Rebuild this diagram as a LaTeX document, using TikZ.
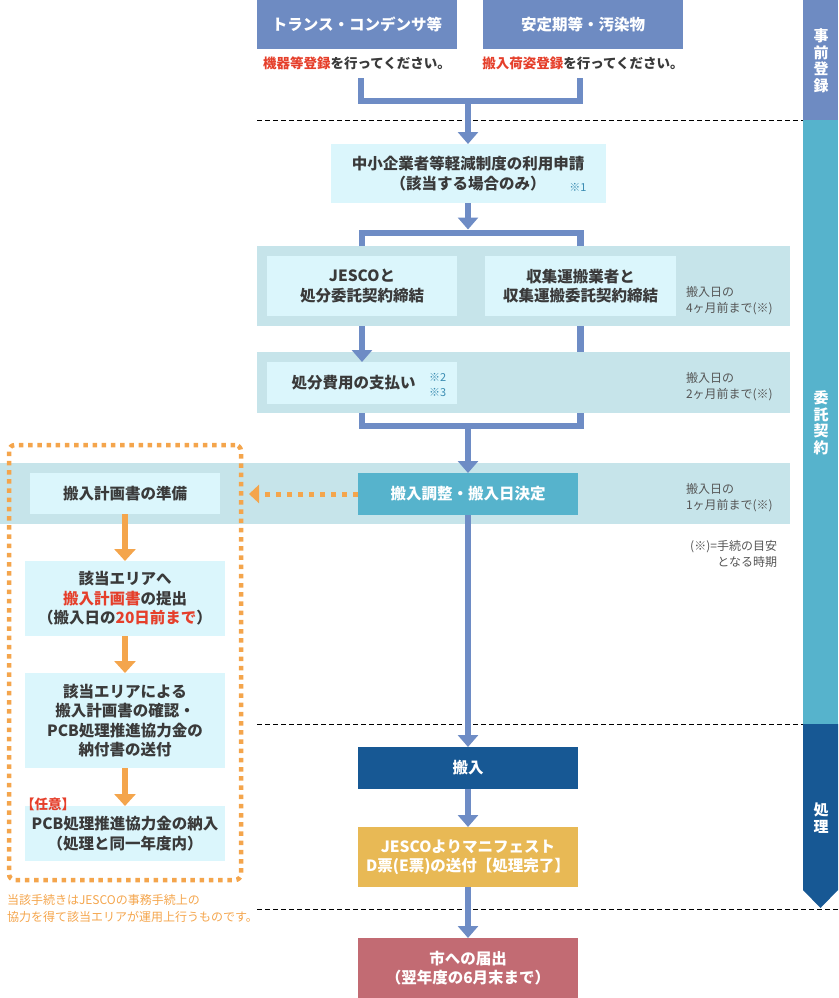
\documentclass[tikz,border=0pt]{standalone}
\usepackage{fontspec}
\setmainfont{Noto Sans CJK JP}
\usetikzlibrary{arrows.meta}
\definecolor{hdblue}{HTML}{6E8BC2}
\definecolor{connc}{HTML}{6E8CC5}
\definecolor{lightbox}{HTML}{DBF6FC}
\definecolor{bandc}{HTML}{C6E4EA}
\definecolor{tealc}{HTML}{56B3CC}
\definecolor{dkblue}{HTML}{175894}
\definecolor{goldc}{HTML}{E8B955}
\definecolor{rosec}{HTML}{C26B73}
\definecolor{orng}{HTML}{F4A54C}
\definecolor{redtxt}{HTML}{E53F2B}
\definecolor{txtc}{HTML}{3A3A3A}
\definecolor{notec}{HTML}{555555}
\definecolor{refc}{HTML}{3A8CB2}
\newcommand\myhf{\fontsize{15.5}{20}\selectfont\bfseries}
\newcommand\mybf{\fontsize{15.5}{19.5}\selectfont\bfseries}
\newcommand\myrf{\fontsize{13.5}{17}\selectfont\bfseries}
\newcommand\mynf{\fontsize{12}{16}\selectfont}
\newcommand\mysf{\fontsize{11}{15}\selectfont}
\newcommand\myof{\fontsize{12}{17}\selectfont}
\newcommand\mylf{\fontsize{15}{16.5}\selectfont\bfseries}
\begin{document}
\begin{tikzpicture}[x=1pt,y=-1pt,
  every node/.style={inner sep=0pt,outer sep=0pt},
  hdbox/.style={fill=hdblue,text=white,font=\myhf,minimum width=200pt,minimum height=49pt,anchor=north west},
  lbox/.style={fill=lightbox,text=txtc,font=\mybf,align=center,anchor=north west},
  cbox/.style={text=white,font=\mybf,align=center,anchor=north west,minimum width=220pt},
  bandbox/.style={fill=bandc,anchor=north west},
  notebox/.style={text=notec,font=\mynf,align=left,anchor=west},
  sidelab/.style={text=white,font=\mylf,align=center},
  cn/.style={draw=connc,line width=6.5pt},
  arr/.style={cn,-{Triangle[width=20pt,length=12pt]}},
  oarr/.style={draw=orng,line width=6.5pt,-{Triangle[width=21pt,length=12pt]}},
  sep/.style={draw=black,line width=0.9pt,dash pattern=on 5pt off 3pt}]
\useasboundingbox (0,0) rectangle (838,998);
% side band
\fill[hdblue] (803,0) rectangle (838,120);
\fill[tealc] (803,120) rectangle (838,724);
\fill[dkblue] (803,724) -- (838,724) -- (838,890) -- (820.5,908) -- (803,890) -- cycle;
\node[sidelab] (lab1) at (821,61) {事\\前\\登\\録};
\node[sidelab] (lab2) at (821,423) {委\\託\\契\\約};
\node[sidelab] (lab3) at (821,818) {処\\理};
% separators
\draw[sep] (257,120) -- (803,120);
\draw[sep] (257,724) -- (803,724);
\draw[sep] (257,909) -- (838,909);
% top
\node[hdbox] (t1) at (257,0) {トランス・コンデンサ等};
\node[hdbox] (t2) at (483,0) {安定期等・汚染物};
\node[font=\myrf,text=txtc] (r1) at (357,63) {\textcolor{redtxt}{機器等登録}を行ってください。};
\node[font=\myrf,text=txtc] (r2) at (583,63) {\textcolor{redtxt}{搬入荷姿登録}を行ってください。};
\coordinate (b1l) at (361,78);
\coordinate (b1r) at (580,78);
\coordinate (j1) at (468,98);
% bands
\node[bandbox,minimum width=533pt,minimum height=80pt] (band1) at (257,246) {};
\node[bandbox,minimum width=533pt,minimum height=61pt] (band2) at (257,352) {};
\node[bandbox,minimum width=790pt,minimum height=61pt] (band3) at (0,463) {};
% boxes
\node[lbox,minimum width=275pt,minimum height=59pt] (chusho) at (330.5,144) {中小企業者等軽減制度の利用申請\\（該当する場合のみ）};
\node[text=refc,font=\mysf] (ref1) at (578,187) {※1};
\node[lbox,minimum width=190pt,minimum height=60pt] (jesco) at (267,256) {JESCOと\\処分委託契約締結};
\node[lbox,minimum width=191pt,minimum height=60pt] (shu) at (485,256) {収集運搬業者と\\収集運搬委託契約締結};
\node[lbox,minimum width=190pt,minimum height=42pt] (shiharai) at (267,362) {};
\node[font=\mybf,text=txtc] (shitxt) at (353.5,383) {処分費用の支払い};
\node[text=refc,font=\mysf,align=left,anchor=west] (ref23) at (429,384.5) {※2\\※3};
\node[cbox,fill=tealc,minimum height=42pt] (chosei) at (358,473) {搬入調整・搬入日決定};
\node[cbox,fill=dkblue,minimum height=42pt] (hannyu) at (358,747) {搬入};
\node[cbox,fill=goldc,minimum height=60pt,text width=220pt] (manif) at (358,827) {JESCOよりマニフェスト\\D票(E票)の送付【処理完了】};
\node[cbox,fill=rosec,minimum height=60pt] (city) at (358,938) {市への届出\\（翌年度の6月末まで）};
% notes
\node[notebox] (n1) at (686,300.5) {搬入日の\\4ヶ月前まで(※)};
\node[notebox] (n2) at (686,387) {搬入日の\\2ヶ月前まで(※)};
\node[notebox] (n3) at (686,497.5) {搬入日の\\1ヶ月前まで(※)};
\node[text=notec,font=\mynf,align=right,anchor=east] (n4) at (777,553.5) {(※)=手続の目安\\となる時期};
% left area
\node[lbox,minimum width=190pt,minimum height=41pt] (junbi) at (30,473) {搬入計画書の準備};
\node[lbox,minimum width=200pt,minimum height=75pt] (teishutsu) at (25,561) {該当エリアへ\\\textcolor{redtxt}{搬入計画書}の提出\\（搬入日の\textcolor{redtxt}{20日前まで}）};
\node[lbox,minimum width=200pt,minimum height=95pt] (kakunin) at (25,673) {該当エリアによる\\搬入計画書の確認・\\PCB処理推進協力金の\\納付書の送付};
\node[lbox,minimum width=200pt,minimum height=55pt] (nonyu) at (25,806) {PCB処理推進協力金の納入\\（処理と同一年度内）};
\node[text=redtxt,font=\myrf,anchor=west] (nini) at (21,804) {【任意】};
\node[draw=orng,line width=4.5pt,dash pattern=on 4.5pt off 4.7pt,rounded corners=6pt,minimum width=232pt,minimum height=435pt,anchor=north west] (area) at (9,445) {};
\node[text=orng,font=\myof,align=left,anchor=west] (onote) at (7,908.5) {当該手続きはJESCOの事務手続上の\\協力を得て該当エリアが運用上行うものです。};
% connectors
\draw[cn,line join=miter] (b1l) -- (361,101) -- (580,101) -- (b1r);
\draw[arr] (j1) -- (chusho.north);
\coordinate (j2) at (468,233);
\draw[arr] (chusho.south) -- (468,229.5);
\draw[cn,line join=miter] (jesco.center |- band1.north) -- (jesco.center |- j2) -- (shu.center |- j2) -- (shu.center |- band1.north);
\draw[arr] (jesco.center |- band1.south) -- (jesco.center |- shiharai.north);
\draw[cn] (shu.center |- band1.south) -- (shu.center |- band2.north);
\coordinate (j3) at (468,426);
\draw[cn,line join=miter] (jesco.center |- band2.south) -- (jesco.center |- j3) -- (shu.center |- j3) -- (shu.center |- band2.south);
\draw[arr] (468,423) -- (chosei.north);
\draw[arr] (chosei.south) -- (hannyu.north);
\draw[arr] (hannyu.south) -- (manif.north);
\draw[arr] (manif.south) -- (city.north);
\coordinate (otip) at (249,494);
\draw[draw=orng,line width=5pt,dash pattern=on 5pt off 6pt,-{Triangle[width=18pt,length=10pt]}] (chosei.west) -- (otip);
\draw[oarr] (junbi.south) -- (teishutsu.north);
\draw[oarr] (teishutsu.south) -- (kakunin.north);
\draw[oarr] (kakunin.south) -- (nonyu.north);
\end{tikzpicture}
\end{document}
